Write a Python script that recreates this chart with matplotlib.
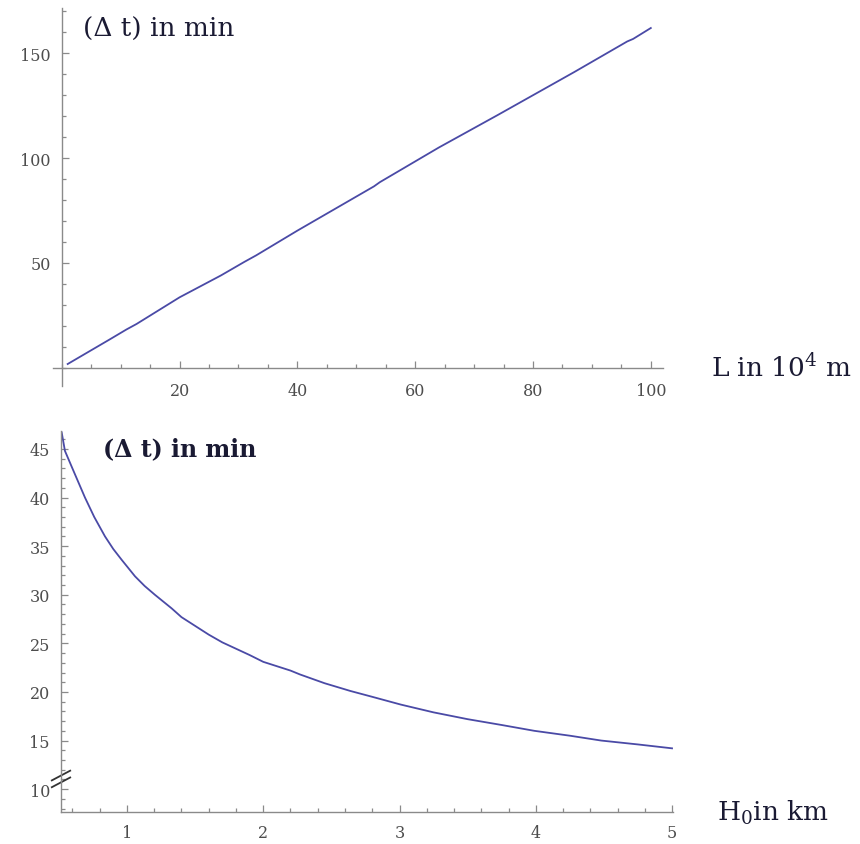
import matplotlib
matplotlib.use("Agg")
import matplotlib.pyplot as plt
from matplotlib.ticker import MultipleLocator, FixedLocator, FuncFormatter

plt.rcParams['mathtext.fontset'] = 'custom'
plt.rcParams['mathtext.rm'] = 'DejaVu Serif'

# Travel time vs. distance
L_vals = [1, 8, 11, 12.7, 20, 27, 31, 33, 40, 53, 54, 64, 74, 87, 96, 97, 100]
dt_L = [1.8, 13.3, 18.3, 20.9, 33.6, 44.0, 50.5, 53.6, 65.4, 86.5, 88.5,
        105.0, 120.5, 141.0, 155.6, 156.8, 162.0]

# Travel time vs. depth
H_vals = [0.521, 0.545, 0.606, 0.692, 0.76, 0.839, 0.9, 0.961, 1.059, 1.13,
          1.205, 1.328, 1.4, 1.5, 1.6, 1.7, 1.9, 2.0, 2.2, 2.27, 2.45, 2.64,
          2.8, 3.01, 3.25, 3.5, 3.75, 3.99, 4.25, 4.48, 4.75, 5.0]
dt_H = [46.7, 44.8, 42.8, 40.0, 38.0, 36.0, 34.7, 33.6, 31.9, 30.9,
        30.0, 28.6, 27.7, 26.8, 25.9, 25.1, 23.8, 23.1, 22.2, 21.8, 20.9, 20.1,
        19.5, 18.7, 17.9, 17.2, 16.6, 16.0, 15.5, 15.0, 14.6, 14.2]

L_ticks = [20, 40, 60, 80, 100]
dtL_ticks = [50, 100, 150]
H_ticks = [1, 2, 3, 4, 5]
dtH_ticks = [10, 15, 20, 25, 30, 35, 40, 45]

LINE = '#4a4aa6'
AXC = '#8a8a8a'
LBL = '#4d4d4d'
TXT = '#1a1a33'
TICKFONT = 'DejaVu Serif'
TITLEFONT = 'DejaVu Serif'

W, H = 860, 845
fig = plt.figure(figsize=(W / 100, H / 100), dpi=100)


def style(ax):
    for s in ('top', 'right'):
        ax.spines[s].set_visible(False)
    for s in ('left', 'bottom'):
        ax.spines[s].set_color(AXC)
        ax.spines[s].set_linewidth(1.0)
    ax.tick_params(which='both', direction='in', color=AXC, width=0.9,
                   labelcolor=LBL, labelsize=11.5)
    ax.tick_params(which='major', length=5)
    ax.tick_params(which='minor', length=3.2)
    for lab in ax.get_xticklabels() + ax.get_yticklabels():
        lab.set_fontfamily(TICKFONT)
    ax.patch.set_alpha(0)


# Upper panel
ax1 = fig.add_axes([53 / W, (H - 387) / H, 610 / W, 377.7 / H])
ax1.plot(L_vals, dt_L, color=LINE, lw=1.3, solid_joinstyle='round')
ax1.set_xlim(-1.49, 102.07)
ax1.set_ylim(-8.68, 171.4)
ax1.spines['left'].set_position(('data', 0))
ax1.spines['bottom'].set_position(('data', 0))
ax1.xaxis.set_major_locator(FixedLocator(L_ticks))
ax1.xaxis.set_minor_locator(MultipleLocator(5))
ax1.yaxis.set_major_locator(FixedLocator(dtL_ticks))
ax1.yaxis.set_minor_locator(MultipleLocator(10))
ax1.xaxis.set_major_formatter(FuncFormatter(lambda v, p: f"{v:.0f}"))
ax1.yaxis.set_major_formatter(FuncFormatter(lambda v, p: f"{v:.0f}"))
style(ax1)
ax1.tick_params(axis='x', pad=10)
ax1.tick_params(axis='y', pad=8)

# Lower panel
ax2 = fig.add_axes([61 / W, (H - 812.7) / H, 612 / W, 380.7 / H])
ax2.plot(H_vals, dt_H, color=LINE, lw=1.3, solid_joinstyle='round')
ax2.set_xlim(0.516, 5.007)
ax2.set_ylim(7.68, 46.85)
ax2.xaxis.set_major_locator(FixedLocator(H_ticks))
ax2.xaxis.set_minor_locator(FixedLocator([0.6, 0.8, 1.2, 1.4, 1.6, 1.8, 2.2, 2.4,
                                          2.6, 2.8, 3.2, 3.4, 3.6, 3.8, 4.2,
                                          4.4, 4.6, 4.8]))
ax2.yaxis.set_major_locator(FixedLocator(dtH_ticks))
ax2.yaxis.set_minor_locator(MultipleLocator(1))
ax2.xaxis.set_major_formatter(FuncFormatter(lambda v, p: f"{v:.0f}"))
ax2.yaxis.set_major_formatter(FuncFormatter(lambda v, p: f"{v:.0f}"))
style(ax2)
ax2.tick_params(axis='x', pad=9)
ax2.tick_params(axis='y', pad=8)

# axis break marks on the lower y-axis
ybreak = 11.05
ytr = ax2.get_yaxis_transform()
for dy in (0.35, -0.35):
    ax2.plot([-0.015, 0.015], [ybreak + dy - 0.5, ybreak + dy + 0.5],
             transform=ytr, color='#333333', lw=1.3, clip_on=False)

# axis titles
fig.text(83 / W, 1 - 29 / H, "(\u0394 t) in min", fontsize=19,
         family=TITLEFONT, color=TXT, va='center', ha='left')
fig.text(711 / W, 1 - 368 / H, r"L in 10$^{\mathrm{4}}$ m", fontsize=19,
         family=TITLEFONT, color=TXT, va='center', ha='left')
fig.text(103 / W, 1 - 449 / H, "(\u0394 t) in min", fontsize=17,
         family=TITLEFONT, weight='bold', color=TXT,
         va='center', ha='left')
fig.text(717 / W, 1 - 813 / H, r"H$_{\mathrm{0}}$in km", fontsize=19,
         family=TITLEFONT, color=TXT, va='center', ha='left')

fig.savefig("out.png", dpi=100)
